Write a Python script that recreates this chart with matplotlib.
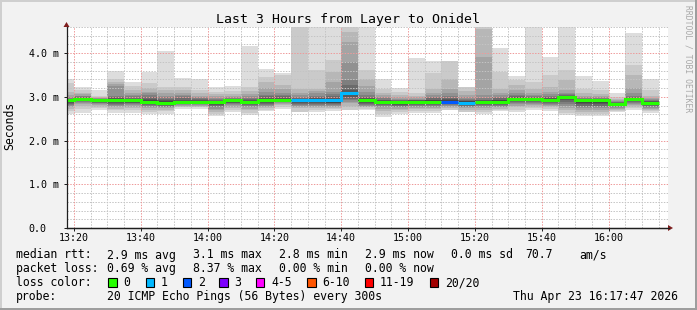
import numpy as np
import matplotlib
matplotlib.use('Agg')
import matplotlib.pyplot as plt
from matplotlib.patches import Polygon, Rectangle
from matplotlib.ticker import MultipleLocator

W, H, DPI = 697, 310, 100

# ---------------- data ----------------
title = "Last 3 Hours from Layer to Onidel"
y_label = "Seconds"
window_start = "13:17:47"
window_end = "16:17:47"

step_start = ["13:15", "13:20", "13:25", "13:30", "13:35", "13:40", "13:45", "13:50",
              "13:55", "14:00", "14:05", "14:10", "14:15", "14:20", "14:25", "14:30",
              "14:35", "14:40", "14:45", "14:50", "14:55", "15:00", "15:05", "15:10",
              "15:15", "15:20", "15:25", "15:30", "15:35", "15:40", "15:45", "15:50",
              "15:55", "16:00", "16:05", "16:10"]

# median RTT per 5-minute step (ms)
median_rtt = [2.92, 2.95, 2.92, 2.92, 2.92, 2.88, 2.87, 2.88, 2.88, 2.88, 2.92, 2.88,
              2.92, 2.93, 2.92, 2.92, 2.92, 3.09, 2.92, 2.89, 2.88, 2.89, 2.89, 2.89,
              2.87, 2.89, 2.89, 2.95, 2.95, 2.93, 3.00, 2.92, 2.92, 2.84, 2.95, 2.87]

# lost pings (of 20) per step
lost_pings = [0, 0, 0, 0, 0, 0, 0, 0, 0, 0, 0, 0, 0, 0, 1, 1, 1, 1, 0, 0, 0, 0, 0, 2,
              1, 0, 0, 0, 0, 0, 0, 0, 0, 0, 0, 0]

# 20 sorted ping RTTs per step (ms) -> smoke
smoke = [
    [2.62, 2.68, 2.72, 2.76, 2.79, 2.82, 2.84, 2.86, 2.88, 2.90, 2.92, 2.93, 2.94, 2.95, 2.97, 3.00, 3.05, 3.12, 3.31, 3.42],
    [2.64, 2.73, 2.79, 2.83, 2.86, 2.88, 2.90, 2.92, 2.93, 2.945, 2.955, 2.97, 2.98, 2.99, 3.01, 3.03, 3.06, 3.10, 3.16, 3.23],
    [2.70, 2.75, 2.78, 2.81, 2.83, 2.85, 2.86, 2.88, 2.89, 2.91, 2.925, 2.93, 2.94, 2.95, 2.96, 2.97, 2.98, 3.00, 3.03, 3.15],
    [2.64, 2.69, 2.73, 2.77, 2.80, 2.82, 2.84, 2.86, 2.88, 2.91, 2.93, 2.95, 2.97, 2.99, 3.03, 3.26, 3.29, 3.35, 3.42, 3.60],
    [2.64, 2.70, 2.75, 2.78, 2.81, 2.83, 2.85, 2.87, 2.89, 2.91, 2.93, 2.94, 2.96, 2.98, 3.01, 3.05, 3.09, 3.15, 3.24, 3.35],
    [2.60, 2.66, 2.71, 2.74, 2.77, 2.79, 2.81, 2.83, 2.85, 2.87, 2.89, 2.93, 2.96, 3.00, 3.04, 3.08, 3.12, 3.20, 3.31, 3.57],
    [2.62, 2.67, 2.71, 2.74, 2.76, 2.78, 2.80, 2.82, 2.84, 2.86, 2.88, 2.90, 2.92, 2.95, 2.99, 3.03, 3.08, 3.15, 3.23, 4.05],
    [2.73, 2.76, 2.78, 2.80, 2.82, 2.83, 2.84, 2.85, 2.86, 2.87, 2.89, 2.91, 2.94, 2.97, 3.01, 3.05, 3.10, 3.15, 3.23, 3.44],
    [2.73, 2.76, 2.78, 2.80, 2.82, 2.83, 2.84, 2.85, 2.86, 2.87, 2.89, 2.91, 2.93, 2.95, 2.97, 3.00, 3.03, 3.08, 3.15, 3.41],
    [2.57, 2.62, 2.66, 2.70, 2.73, 2.76, 2.79, 2.81, 2.84, 2.87, 2.89, 2.90, 2.91, 2.93, 2.95, 2.98, 3.01, 3.06, 3.12, 3.23],
    [2.66, 2.71, 2.75, 2.78, 2.81, 2.83, 2.85, 2.87, 2.89, 2.91, 2.93, 2.94, 2.95, 2.96, 2.97, 2.99, 3.02, 3.06, 3.14, 3.25],
    [2.58, 2.64, 2.69, 2.73, 2.76, 2.79, 2.81, 2.83, 2.85, 2.87, 2.89, 2.91, 2.93, 2.95, 2.98, 3.02, 3.07, 3.13, 3.23, 4.16],
    [2.67, 2.71, 2.75, 2.78, 2.80, 2.82, 2.84, 2.86, 2.88, 2.91, 2.93, 2.95, 2.98, 3.01, 3.05, 3.12, 3.21, 3.35, 3.46, 3.63],
    [2.73, 2.77, 2.81, 2.84, 2.86, 2.88, 2.89, 2.90, 2.91, 2.92, 2.94, 2.96, 2.98, 3.01, 3.05, 3.10, 3.17, 3.27, 3.50, 3.54],
    [2.65, 2.65, 2.74, 2.77, 2.80, 2.82, 2.84, 2.86, 2.88, 2.91, 2.93, 2.94, 2.96, 2.98, 3.00, 3.04, 3.10, 3.18, 4.80, 4.80],
    [2.65, 2.70, 2.74, 2.77, 2.80, 2.82, 2.84, 2.86, 2.88, 2.91, 2.93, 2.95, 2.97, 3.00, 3.03, 3.08, 3.14, 3.19, 3.61, 4.80],
    [2.68, 2.72, 2.75, 2.77, 2.79, 2.81, 2.83, 2.85, 2.87, 2.91, 2.93, 2.95, 2.98, 3.02, 3.06, 3.12, 3.34, 3.57, 3.84, 4.80],
    [2.70, 2.70, 2.78, 2.85, 2.89, 2.93, 2.96, 3.00, 3.04, 3.07, 3.10, 3.12, 3.15, 3.27, 3.38, 3.80, 4.26, 4.49, 4.80, 4.80],
    [2.70, 2.73, 2.76, 2.78, 2.80, 2.82, 2.84, 2.86, 2.88, 2.91, 2.93, 2.95, 2.97, 3.00, 3.05, 3.12, 3.25, 3.42, 3.61, 4.80],
    [2.55, 2.61, 2.67, 2.72, 2.76, 2.79, 2.81, 2.83, 2.85, 2.88, 2.90, 2.91, 2.92, 2.94, 2.97, 3.00, 3.04, 3.10, 3.19, 3.40],
    [2.62, 2.66, 2.70, 2.73, 2.76, 2.78, 2.80, 2.82, 2.84, 2.87, 2.89, 2.90, 2.91, 2.92, 2.94, 2.96, 3.00, 3.04, 3.12, 3.21],
    [2.64, 2.68, 2.72, 2.75, 2.78, 2.80, 2.82, 2.84, 2.86, 2.88, 2.90, 2.91, 2.92, 2.93, 2.94, 2.96, 2.99, 3.02, 3.08, 3.88],
    [2.64, 2.68, 2.72, 2.75, 2.78, 2.80, 2.82, 2.84, 2.86, 2.88, 2.90, 2.92, 2.94, 2.97, 3.00, 3.04, 3.10, 3.19, 3.54, 3.83],
    [2.70, 2.70, 2.75, 2.77, 2.79, 2.81, 2.83, 2.85, 2.86, 2.88, 2.90, 2.92, 2.95, 2.98, 3.02, 3.08, 3.17, 3.42, 3.82, 3.82],
    [2.66, 2.66, 2.71, 2.74, 2.76, 2.78, 2.80, 2.82, 2.84, 2.86, 2.88, 2.90, 2.91, 2.93, 2.96, 3.00, 3.05, 3.13, 3.22, 3.22],
    [2.62, 2.66, 2.70, 2.74, 2.77, 2.79, 2.81, 2.83, 2.85, 2.88, 2.90, 2.91, 2.92, 2.94, 2.97, 3.04, 3.91, 4.55, 4.90, 5.00],
    [2.67, 2.70, 2.73, 2.76, 2.78, 2.80, 2.82, 2.84, 2.86, 2.88, 2.90, 2.92, 2.94, 2.97, 3.00, 3.04, 3.10, 3.19, 3.57, 4.12],
    [2.66, 2.70, 2.76, 2.80, 2.84, 2.86, 2.88, 2.90, 2.92, 2.94, 2.96, 2.97, 2.99, 3.01, 3.04, 3.08, 3.15, 3.27, 3.38, 3.48],
    [2.70, 2.74, 2.78, 2.81, 2.84, 2.86, 2.88, 2.90, 2.92, 2.94, 2.96, 2.97, 2.98, 3.00, 3.02, 3.05, 3.10, 3.19, 3.34, 4.90],
    [2.67, 2.72, 2.76, 2.79, 2.82, 2.84, 2.86, 2.88, 2.90, 2.92, 2.94, 2.95, 2.97, 2.99, 3.02, 3.06, 3.12, 3.23, 3.51, 3.92],
    [2.58, 2.64, 2.70, 2.75, 2.80, 2.84, 2.88, 2.92, 2.95, 2.98, 3.01, 3.02, 3.03, 3.04, 3.06, 3.10, 3.15, 3.38, 3.61, 4.90],
    [2.57, 2.62, 2.66, 2.70, 2.74, 2.77, 2.80, 2.83, 2.86, 2.91, 2.93, 2.94, 2.95, 2.96, 2.97, 2.99, 3.02, 3.08, 3.19, 3.47],
    [2.57, 2.62, 2.66, 2.70, 2.74, 2.77, 2.80, 2.83, 2.86, 2.91, 2.93, 2.94, 2.95, 2.96, 2.97, 2.99, 3.01, 3.06, 3.15, 3.36],
    [2.66, 2.68, 2.71, 2.73, 2.75, 2.77, 2.79, 2.80, 2.81, 2.83, 2.85, 2.86, 2.87, 2.88, 2.89, 2.91, 2.93, 2.96, 3.00, 3.10],
    [2.70, 2.74, 2.78, 2.81, 2.84, 2.86, 2.88, 2.90, 2.92, 2.94, 2.96, 2.97, 2.98, 3.00, 3.03, 3.10, 3.20, 3.50, 3.74, 4.47],
    [2.64, 2.67, 2.70, 2.73, 2.75, 2.77, 2.79, 2.81, 2.83, 2.86, 2.88, 2.89, 2.90, 2.91, 2.93, 2.95, 2.98, 3.03, 3.15, 3.41],
]

y_ticks = [0.0, 1.0, 2.0, 3.0, 4.0]
y_tick_labels = ["0.0", "1.0 m", "2.0 m", "3.0 m", "4.0 m"]
x_ticks = ["13:20", "13:40", "14:00", "14:20", "14:40", "15:00", "15:20", "15:40", "16:00"]
y_max = 4.6

loss_labels = ["0", "1", "2", "3", "4-5", "6-10", "11-19", "20/20"]
loss_colors = ["#26ff00", "#00b8ff", "#0059ff", "#7e00ff", "#ff00ff", "#ff5500", "#ff0000", "#a10000"]

rtt_stats = ["2.9 ms avg", "3.1 ms max", "2.8 ms min", "2.9 ms now", "0.0 ms sd", "70.7", "am/s"]
loss_stats = ["0.69 % avg", "8.37 % max", "0.00 % min", "0.00 % now"]
probe_text = "20 ICMP Echo Pings (56 Bytes) every 300s"
stamp_text = "Thu Apr 23 16:17:47 2026"
credit_text = "RRDTOOL / TOBI OETIKER"

# ---------------- helpers ----------------
def to_min(s):
    parts = [int(p) for p in s.split(":")]
    while len(parts) < 3:
        parts.append(0)
    return parts[0] * 60 + parts[1] + parts[2] / 60.0 - 13 * 60

def fx(x):
    return x / W

def fy(y):
    return 1 - y / H

def loss_color(n):
    if n <= 0:
        return loss_colors[0]
    if n == 1:
        return loss_colors[1]
    if n == 2:
        return loss_colors[2]
    if n == 3:
        return loss_colors[3]
    if n <= 5:
        return loss_colors[4]
    if n <= 10:
        return loss_colors[5]
    if n <= 19:
        return loss_colors[6]
    return loss_colors[7]

MONO = "DejaVu Sans Mono"
BG = "#f2f2f2"

fig = plt.figure(figsize=(W / DPI, H / DPI), dpi=DPI, facecolor=BG)

X0, X1, Y0, Y1 = 66.5, 668.0, 228.0, 27.0
ax = fig.add_axes([fx(X0), fy(Y0), (X1 - X0) / W, (Y0 - Y1) / H])
ax.set_facecolor("white")

starts = np.array([to_min(s) for s in step_start])
edges = np.append(starts, starts[-1] + 5)
P = np.array(smoke)
half = 10
for k in range(1, half + 1):
    lo = P[:, k - 1]
    hi = P[:, 20 - k]
    c = int(190 / half * (half - k)) + 50
    col = "#%02x%02x%02x" % (c, c, c)
    ax.fill_between(edges, np.append(lo, lo[-1]), np.append(hi, hi[-1]), step="post",
                    color=col, linewidth=0, zorder=1, antialiased=False)

# median line, coloured by loss
med = np.array(median_rtt)
cols = [loss_color(n) for n in lost_pings]
i = 0
while i < len(med):
    j = i
    while j + 1 < len(med) and cols[j + 1] == cols[i]:
        j += 1
    xs = edges[i:j + 2]
    ys = np.append(med[i:j + 1], med[j])
    ax.step(xs, ys, where="post", color=cols[i], linewidth=2.2, zorder=4,
            solid_capstyle="butt", solid_joinstyle="miter")
    i = j + 1

ax.set_xlim(to_min(window_start), to_min(window_end))
ax.set_ylim(0, y_max)

ax.set_xticks([to_min(t) for t in x_ticks])
ax.set_xticklabels(x_ticks)
ax.xaxis.set_minor_locator(MultipleLocator(5))
ax.set_yticks(y_ticks)
ax.set_yticklabels(y_tick_labels)
ax.yaxis.set_minor_locator(MultipleLocator(0.2))

# dotted grid drawn explicitly (1px on / 1px off)
xmin, xmax = ax.get_xlim()
for t in ax.xaxis.get_minorticklocs():
    ax.axvline(t, color="#c4c4c4", linewidth=0.72, linestyle=(0, (1.4, 1.4)), zorder=3)
for t in ax.yaxis.get_minorticklocs():
    ax.axhline(t, color="#c4c4c4", linewidth=0.72, linestyle=(0, (1.4, 1.4)), zorder=3)
for t in ax.get_xticks():
    ax.axvline(t, color="#ee9a9a", linewidth=0.72, linestyle=(0, (1.4, 1.4)), zorder=3)
for t in ax.get_yticks()[1:]:
    ax.axhline(t, color="#ee9a9a", linewidth=0.72, linestyle=(0, (1.4, 1.4)), zorder=3)

for side in ["top", "right"]:
    ax.spines[side].set_visible(False)
ax.spines["bottom"].set_color("#1f1f1f")
ax.spines["left"].set_color("#1f1f1f")
ax.spines["bottom"].set_linewidth(0.9)
ax.spines["left"].set_linewidth(0.9)
ax.spines["bottom"].set_zorder(5)
ax.spines["left"].set_zorder(5)

ax.tick_params(which="minor", length=0)
ax.tick_params(axis="x", which="major", length=2.2, width=0.72, color="#1f1f1f", pad=1.5,
               labelsize=7.2, labelfontfamily=MONO)
ax.tick_params(axis="y", which="major", length=2.2, width=0.72, color="#1f1f1f", pad=25.0,
               labelsize=7.2, labelfontfamily=MONO)
for lab in ax.get_yticklabels():
    lab.set_horizontalalignment("left")

# arrows
arrow_col = "#801f1f"
fig.add_artist(Polygon([[fx(X0 - 3), fy(Y1)], [fx(X0 + 3), fy(Y1)], [fx(X0), fy(Y1 - 5)]],
                       closed=True, transform=fig.transFigure, color=arrow_col, lw=0))
fig.add_artist(Polygon([[fx(X1), fy(Y0 - 3)], [fx(X1), fy(Y0 + 3)], [fx(X1 + 5), fy(Y0)]],
                       closed=True, transform=fig.transFigure, color=arrow_col, lw=0))
fig.add_artist(plt.Line2D([fx(X0), fx(X1 + 1)], [fy(Y0), fy(Y0)], transform=fig.transFigure,
                          color="#1f1f1f", lw=0.9))

# frame shading
fig.add_artist(Rectangle((0, fy(2)), 1, 2 / H, transform=fig.transFigure, color="#cfcfcf", lw=0))
fig.add_artist(Rectangle((0, 0), 2 / W, 1, transform=fig.transFigure, color="#cfcfcf", lw=0))
fig.add_artist(Rectangle((0, 0), 1, 2 / H, transform=fig.transFigure, color="#9e9e9e", lw=0))
fig.add_artist(Rectangle((fx(W - 2), 0), 2 / W, 1, transform=fig.transFigure, color="#9e9e9e", lw=0))

# title / labels
fig.text(fx(348), fy(23.5), title, ha="center", va="baseline", family=MONO, fontsize=9.5)
fig.text(fx(10), fy(126), y_label, ha="center", va="center", rotation=90, family=MONO, fontsize=8.3)
fig.text(fx(688), fy(59), credit_text, ha="center", va="center", rotation=270, family=MONO,
         fontsize=5.8, color="#a8a8a8")

LS = 8.3
base = [258.5, 272.2, 286.0, 299.7]
col_x = [107, 193, 279, 365, 451, 525, 579]
fig.text(fx(16), fy(base[0]), "median rtt:", family=MONO, fontsize=LS, va="baseline")
for s, x in zip(rtt_stats, col_x):
    fig.text(fx(x), fy(base[0]), s, family=MONO, fontsize=LS, va="baseline")
fig.text(fx(16), fy(base[1]), "packet loss:", family=MONO, fontsize=LS, va="baseline")
for s, x in zip(loss_stats, col_x):
    fig.text(fx(x), fy(base[1]), s, family=MONO, fontsize=LS, va="baseline")
fig.text(fx(16), fy(base[2]), "loss color:", family=MONO, fontsize=LS, va="baseline")
box_x = [108.3, 145.7, 182.7, 219.3, 256.0, 307.3, 365.0, 430.0]
for lab, c, x in zip(loss_labels, loss_colors, box_x):
    fig.add_artist(Rectangle((fx(x), fy(286.7)), 8.3 / W, 8.3 / H, transform=fig.transFigure,
                             facecolor=c, edgecolor="black", lw=0.8))
    fig.text(fx(x + 15), fy(base[2]), lab, family=MONO, fontsize=LS, va="baseline")
fig.text(fx(16), fy(base[3]), "probe:", family=MONO, fontsize=LS, va="baseline")
fig.text(fx(107), fy(base[3]), probe_text, family=MONO, fontsize=LS, va="baseline")
fig.text(fx(513), fy(base[3]), stamp_text, family=MONO, fontsize=LS, va="baseline")

fig.savefig("out.png", dpi=DPI, facecolor=BG)
